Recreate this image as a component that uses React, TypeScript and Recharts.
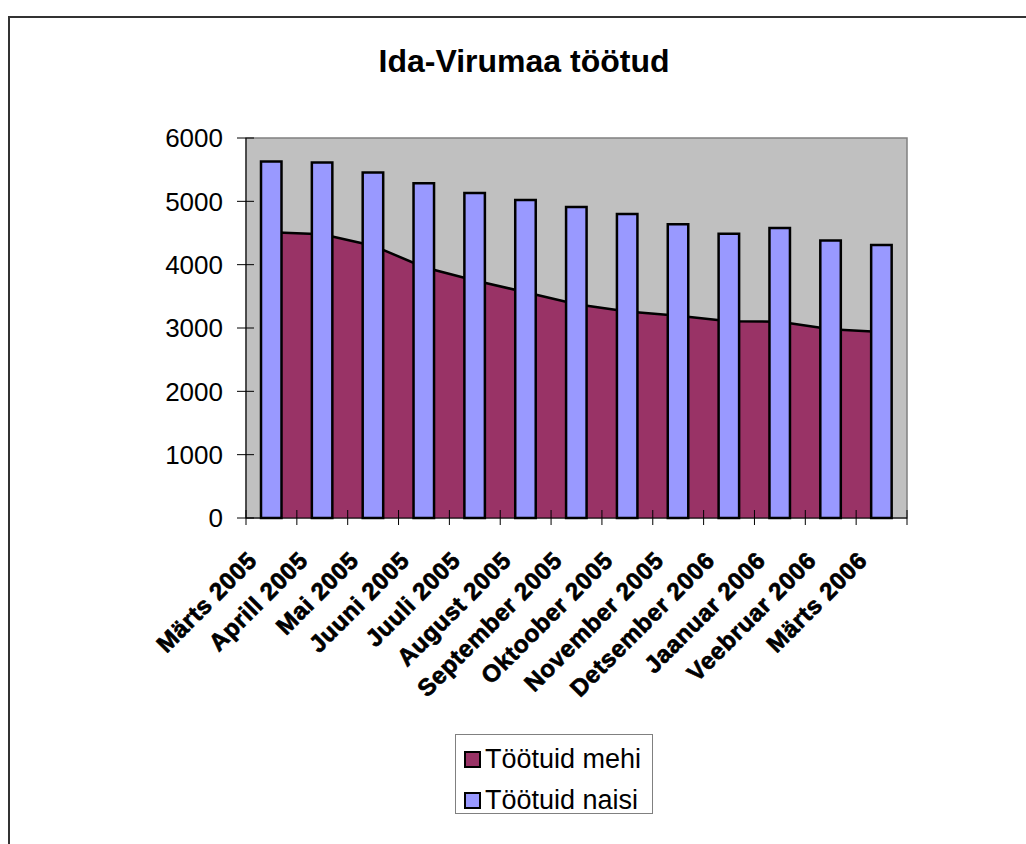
import React from 'react';
import { ComposedChart, Area, Bar, XAxis, YAxis, CartesianGrid, ReferenceArea } from 'recharts';

const categories = [
  'Märts 2005', 'Aprill 2005', 'Mai 2005', 'Juuni 2005', 'Juuli 2005', 'August 2005',
  'September 2005', 'Oktoober 2005', 'November 2005', 'Detsember 2006', 'Jaanuar 2006',
  'Veebruar 2006', 'Märts 2006',
];
const menValues = [4510, 4480, 4300, 3960, 3750, 3565, 3375, 3262, 3195, 3105, 3100, 2980, 2935];
const womenValues = [5630, 5615, 5455, 5285, 5130, 5020, 4910, 4800, 4640, 4490, 4580, 4380, 4310];
const yTicks = [0, 1000, 2000, 3000, 4000, 5000, 6000];
const seriesNames = ['Töötuid mehi', 'Töötuid naisi'];
const seriesColors = ['#993366', '#9999FF'];
const chartTitle = 'Ida-Virumaa töötud';

const data = categories.map((c, i) => ({ name: c, mehi: menValues[i], naisi: womenValues[i] }));

const W = 1026;
const H = 844;
const MARGIN = { top: 138, right: 119, left: 186, bottom: 266 };
const Y_W = 60;
const X_H = 60;
const TS = 8;
const TM = 4;
const PLOT_W = W - MARGIN.left - MARGIN.right - Y_W;
const BAND = PLOT_W / categories.length;
const FONT = '"Liberation Sans", Arial, sans-serif';

const XTick = (props: any) => {
  const { x, y, payload } = props;
  const idx = categories.indexOf(payload.value);
  const axisY = y - TS - TM;
  return (
    <g>
      <line x1={x - BAND / 2} x2={x - BAND / 2} y1={axisY - 8} y2={axisY + 7} stroke="#000" strokeWidth={1} />
      {idx === categories.length - 1 && (
        <line x1={x + BAND / 2} x2={x + BAND / 2} y1={axisY - 8} y2={axisY + 7} stroke="#000" strokeWidth={1} />
      )}
      <text
        transform={`translate(${x - 13},${axisY + 44}) rotate(-45)`}
        textAnchor="end"
        fontFamily={FONT}
        fontWeight="bold"
        fontSize={24}
        letterSpacing={0.6}
        fill="#000"
        stroke="#000"
        strokeWidth={0.7}
      >
        {payload.value}
      </text>
    </g>
  );
};

const YTick = (props: any) => {
  const { x, y, payload } = props;
  const axisX = x + TS + TM;
  return (
    <g>
      <line x1={axisX - 9} x2={axisX + 8} y1={y} y2={y} stroke="#000" strokeWidth={1} />
      <text x={axisX - 23} y={y} dy="0.36em" textAnchor="end" fontFamily={FONT} fontSize={26} fill="#000">
        {payload.value}
      </text>
    </g>
  );
};

export default function App() {
  return (
    <div style={{ position: 'absolute', left: 0, top: 0, width: W, height: H, overflow: 'hidden', background: '#fff' }}>
      <div
        style={{
          position: 'absolute',
          left: 8,
          top: 16,
          width: 1100,
          height: 900,
          border: '2px solid #333',
          boxSizing: 'border-box',
        }}
      />
      <svg style={{ position: 'absolute', left: 0, top: 0 }} width={W} height={110}>
        <text x={524} y={72} textAnchor="middle" fontFamily={FONT} fontWeight="bold" fontSize={32} fill="#000">
          {chartTitle}
        </text>
      </svg>
      <div style={{ position: 'absolute', left: 0, top: 0 }}>
        <ComposedChart width={W} height={H} data={data} margin={MARGIN} barCategoryGap={0}>
          <CartesianGrid horizontal={false} vertical={false} fill="#C0C0C0" stroke="none" />
          <ReferenceArea y1={0} y2={6000} fill="none" stroke="#808080" strokeWidth={1.5} />
          <XAxis
            dataKey="name"
            height={X_H}
            interval={0}
            tickSize={TS}
            tickMargin={TM}
            tickLine={false}
            axisLine={{ stroke: '#000', strokeWidth: 1 }}
            tick={<XTick />}
          />
          <YAxis
            width={Y_W}
            domain={[0, 6000]}
            ticks={yTicks}
            interval={0}
            tickSize={TS}
            tickMargin={TM}
            tickLine={false}
            axisLine={{ stroke: '#000', strokeWidth: 1 }}
            tick={<YTick />}
          />
          <Area
            type="linear"
            dataKey="mehi"
            name={seriesNames[0]}
            fill={seriesColors[0]}
            fillOpacity={1}
            stroke="#000"
            strokeWidth={2.5}
            isAnimationActive={false}
            dot={false}
            activeDot={false}
          />
          <Bar
            dataKey="naisi"
            name={seriesNames[1]}
            fill={seriesColors[1]}
            stroke="#000"
            strokeWidth={2.5}
            barSize={20.5}
            isAnimationActive={false}
          />
        </ComposedChart>
      </div>
      <div
        style={{
          position: 'absolute',
          left: 455,
          top: 734,
          width: 198,
          height: 80,
          border: '1px solid #808080',
          boxSizing: 'border-box',
          background: '#fff',
          fontFamily: FONT,
          fontSize: 27,
          color: '#000',
        }}
      >
        {seriesNames.map((n, i) => (
          <div key={n} style={{ position: 'absolute', left: 8, top: 9 + i * 41, height: 30, display: 'flex', alignItems: 'center', whiteSpace: 'nowrap' }}>
            <span
              style={{
                display: 'inline-block',
                width: 17,
                height: 17,
                boxSizing: 'border-box',
                background: seriesColors[i],
                border: '2px solid #000',
                marginRight: 4,
              }}
            />
            <span>{n}</span>
          </div>
        ))}
      </div>
    </div>
  );
}
